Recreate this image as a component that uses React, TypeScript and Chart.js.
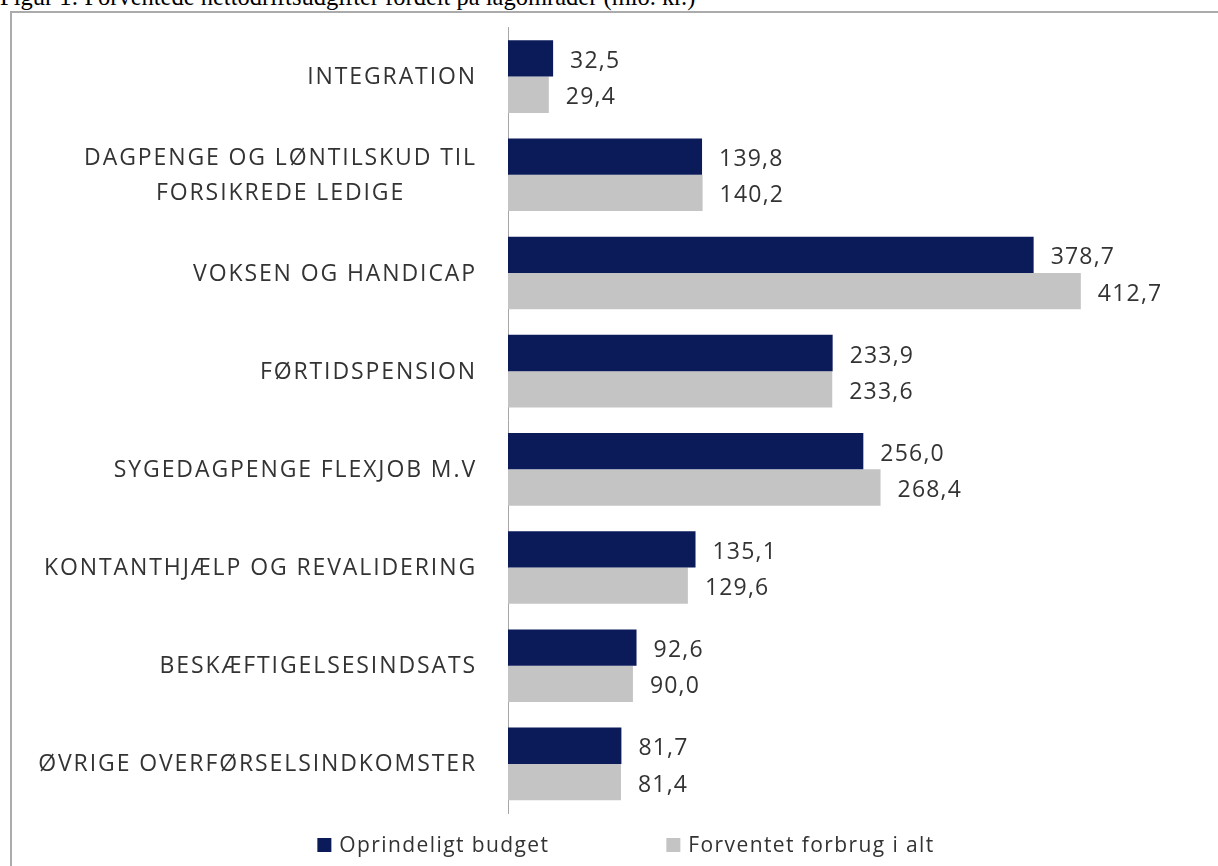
import React, { useEffect, useRef } from "react";
import { Chart, registerables } from "chart.js";

Chart.register(...registerables);

const titleText = "Figur 1: Forventede nettodriftsudgifter fordelt på lagområder (mio. kr.)";

const categories: string[][] = [
  ["INTEGRATION"],
  ["DAGPENGE OG LØNTILSKUD TIL", "FORSIKREDE LEDIGE"],
  ["VOKSEN OG HANDICAP"],
  ["FØRTIDSPENSION"],
  ["SYGEDAGPENGE FLEXJOB M.V"],
  ["KONTANTHJÆLP OG REVALIDERING"],
  ["BESKÆFTIGELSESINDSATS"],
  ["ØVRIGE OVERFØRSELSINDKOMSTER"],
];

const budgetValues = [32.5, 139.8, 378.7, 233.9, 256.0, 135.1, 92.6, 81.7];
const forventetValues = [29.4, 140.2, 412.7, 233.6, 268.4, 129.6, 90.0, 81.4];

const seriesNames = ["Oprindeligt budget", "Forventet forbrug i alt"];
const seriesColors = ["#0b1b5a", "#c4c4c4"];

const TEXT_COLOR = "#333333";
const FONT = '"Open Sans", sans-serif';

const fmt = (v: number) => v.toFixed(1).replace(".", ",");

const labelsPlugin = {
  id: "customLabels",
  afterDraw(chart: any) {
    const ctx = chart.ctx as CanvasRenderingContext2D;
    const yScale = chart.scales.y;
    ctx.save();
    // category labels
    ctx.font = `23px ${FONT}`;
    (ctx as any).letterSpacing = "1.9px";
    ctx.fillStyle = TEXT_COLOR;
    ctx.textBaseline = "middle";
    ctx.textAlign = "left";
    const labels = chart.data.labels as string[][];
    labels.forEach((lab, i) => {
      const lines = Array.isArray(lab) ? lab : [lab];
      const cy = yScale.getPixelForValue(i);
      const widths = lines.map((l) => ctx.measureText(l).width);
      const maxW = Math.max(...widths);
      const right = chart.chartArea.left - 31;
      lines.forEach((l, j) => {
        const ly = cy + (j - (lines.length - 1) / 2) * 35 + 1;
        const x = right - maxW / 2 - widths[j] / 2;
        ctx.fillText(l, x, ly);
      });
    });
    // value labels
    ctx.font = `23px ${FONT}`;
    (ctx as any).letterSpacing = "1.2px";
    chart.data.datasets.forEach((ds: any, di: number) => {
      const meta = chart.getDatasetMeta(di);
      meta.data.forEach((bar: any, i: number) => {
        ctx.fillText(fmt(ds.data[i]), bar.x + 17, bar.y + 3);
      });
    });
    // legend
    ctx.font = `21px ${FONT}`;
    (ctx as any).letterSpacing = "1.4px";
    const legendY = 845;
    const box = 14;
    const gap = 8;
    const itemGap = 117;
    const widths = seriesNames.map((n) => ctx.measureText(n).width);
    const total = widths.reduce((a, w) => a + box + gap + w, 0) + itemGap * (seriesNames.length - 1);
    let x = 626 - total / 2;
    seriesNames.forEach((n, i) => {
      ctx.fillStyle = seriesColors[i];
      ctx.fillRect(x, legendY - box / 2, box, box);
      x += box + gap;
      ctx.fillStyle = TEXT_COLOR;
      ctx.fillText(n, x, legendY + 1);
      x += widths[i] + itemGap;
    });
    ctx.restore();
  },
};

export default function App() {
  const canvasRef = useRef<HTMLCanvasElement | null>(null);

  useEffect(() => {
    if (!canvasRef.current) return;
    const chart = new Chart(canvasRef.current, {
      type: "bar",
      data: {
        labels: categories as any,
        datasets: [
          {
            label: seriesNames[0],
            data: budgetValues,
            backgroundColor: seriesColors[0],
            categoryPercentage: 0.74,
            barPercentage: 1,
          },
          {
            label: seriesNames[1],
            data: forventetValues,
            backgroundColor: seriesColors[1],
            categoryPercentage: 0.74,
            barPercentage: 1,
          },
        ],
      },
      options: {
        indexAxis: "y",
        responsive: false,
        animation: false,
        devicePixelRatio: 1,
        events: [],
        layout: { padding: { top: 27.5, bottom: 53, left: 0, right: 16 } },
        plugins: {
          legend: { display: false },
          tooltip: { enabled: false },
          title: { display: false },
        },
        scales: {
          x: { type: "linear", min: 0, max: 500, display: false },
          y: {
            type: "category",
            grid: { display: false },
            border: { display: true, color: "#a6a6a6", width: 1 },
            ticks: { display: false },
            afterFit: (scale: any) => {
              scale.width = 508;
            },
          },
        },
      },
      plugins: [labelsPlugin],
    });
    return () => chart.destroy();
  }, []);

  return (
    <div
      style={{
        position: "absolute",
        left: 0,
        top: 0,
        width: 1218,
        height: 866,
        overflow: "hidden",
        background: "#ffffff",
      }}
    >
      <div
        style={{
          position: "absolute",
          left: 0,
          top: -15,
          fontFamily: '"Liberation Serif", "Times New Roman", serif',
          fontSize: 24.5,
          lineHeight: "24px",
          whiteSpace: "nowrap",
          color: "#000",
        }}
      >
        {titleText}
      </div>
      <div
        style={{
          position: "absolute",
          left: 10,
          top: 11,
          width: 1300,
          height: 1000,
          borderLeft: "2px solid #ababab",
          borderTop: "2px solid #ababab",
        }}
      />
      <canvas
        ref={canvasRef}
        width={1218}
        height={866}
        style={{ position: "absolute", left: 0, top: 0, width: 1218, height: 866 }}
      />
    </div>
  );
}
